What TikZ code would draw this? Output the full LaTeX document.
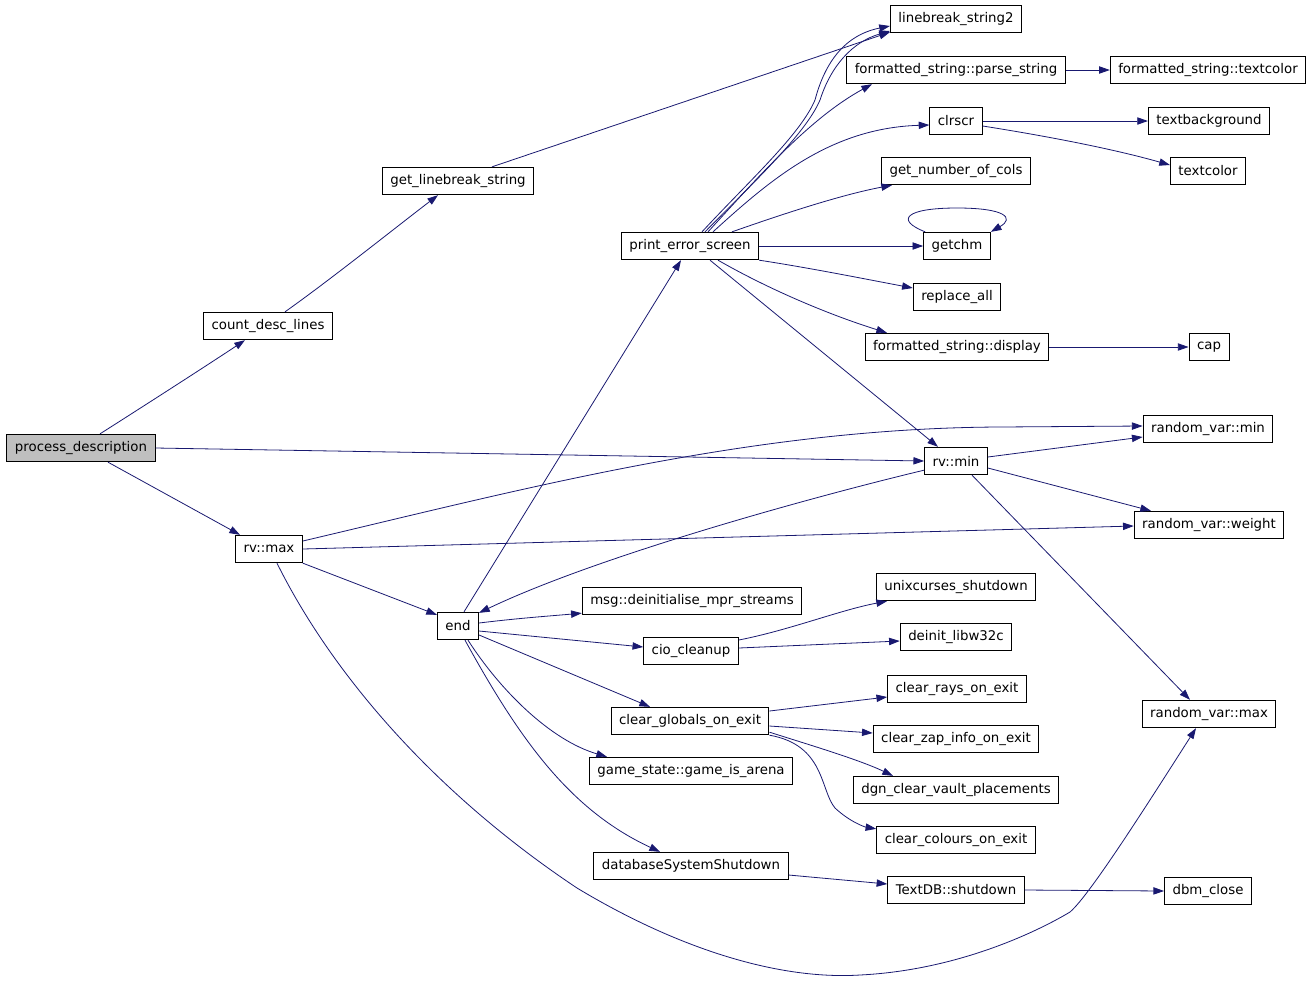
\documentclass[tikz,border=0pt]{standalone}
\usepackage{fontspec}
\setmainfont{DejaVu Sans}
\usetikzlibrary{calc,arrows.meta}
\definecolor{edgecol}{HTML}{191970}
\definecolor{curfill}{HTML}{BFBFBF}
\tikzset{
  fn/.style={draw=black, line width=0.75pt, fill=white, inner xsep=6pt, inner ysep=0pt,
    minimum height=20.5pt, font=\fontsize{10pt}{12pt}\selectfont, anchor=center},
  cur/.style={fn, fill=curfill},
  edge/.style={draw=edgecol, line width=0.6pt, -{Triangle[length=8pt,width=5.5pt]}}
}
\begin{document}
\begin{tikzpicture}[x=0.75pt,y=-0.75pt]
\useasboundingbox (0,0) rectangle (1309,1004);
% nodes
\node[cur] (pd) at (81,448) {process\_description};
\node[fn] (cdl) at (268,326) {count\_desc\_lines};
\node[fn] (gls) at (458,181) {get\_linebreak\_string};
\node[fn] (rvmax) at (269,549) {rv::max};
\node[fn] (endn) at (458,626) {end};
\node[fn] (pes) at (690,246) {print\_error\_screen};
\node[fn] (lbs2) at (956,19) {linebreak\_string2};
\node[fn] (fsps) at (956,70) {formatted\_string::parse\_string};
\node[fn] (fstc) at (1208,70) {formatted\_string::textcolor};
\node[fn] (clrscr) at (956,121) {clrscr};
\node[fn] (tbg) at (1209,121) {textbackground};
\node[fn] (tc) at (1208,171) {textcolor};
\node[fn] (gnc) at (956,171) {get\_number\_of\_cols};
\node[fn] (getchm) at (957,246) {getchm};
\node[fn] (repl) at (957,297) {replace\_all};
\node[fn] (fsd) at (957,347) {formatted\_string::display};
\node[fn] (cap) at (1209,347) {cap};
\node[fn] (rvarmin) at (1208,429) {random\_var::min};
\node[fn] (rvmin) at (956,461) {rv::min};
\node[fn] (rvarw) at (1209,525) {random\_var::weight};
\node[fn] (msg) at (692,601) {msg::deinitialise\_mpr\_streams};
\node[fn] (ucs) at (956,587) {unixcurses\_shutdown};
\node[fn] (cio) at (691,651) {cio\_cleanup};
\node[fn] (dlw) at (956,637) {deinit\_libw32c};
\node[fn] (crays) at (957,689) {clear\_rays\_on\_exit};
\node[fn] (cglob) at (690,721) {clear\_globals\_on\_exit};
\node[fn] (czap) at (956,739) {clear\_zap\_info\_on\_exit};
\node[fn] (rvarmax) at (1209,714) {random\_var::max};
\node[fn] (gsga) at (691,771) {game\_state::game\_is\_arena};
\node[fn] (dgn) at (956,790) {dgn\_clear\_vault\_placements};
\node[fn] (ccol) at (956,840) {clear\_colours\_on\_exit};
\node[fn] (dbss) at (691,866) {databaseSystemShutdown};
\node[fn] (tdb) at (956,890) {TextDB::shutdown};
\node[fn] (dbm) at (1208,891) {dbm\_close};
% edges from process_description
\draw[edge] ($(pd.north)+(19,0)$) .. controls (125,418) and (200,370) .. ($(cdl.south)+(-23,0)$);
\draw[edge] (pd.east) -- (rvmin.west);
\draw[edge] ($(pd.south)+(27,0)$) -- ($(rvmax.north)+(-29,0)$);
\draw[edge] ($(cdl.north)+(17,0)$) .. controls (330,280) and (395,228) .. ($(gls.south)+(-20,0)$);
\draw[edge] ($(gls.north)+(34,0)$) -- ($(lbs2.south west)+(0,-1)$);
% rv::max
\draw[edge] ($(rvmax.east)+(0,-8)$) .. controls (520,490) and (750,428) .. (1000,427) -- ($(rvarmin.west)+(0,-3)$);
\draw[edge] (rvmax.east) -- ($(rvarw.west)+(0,1)$);
\draw[edge] (rvmax.south east) -- ($(endn.north west)+(0,3)$);
\draw[edge] ($(rvmax.south)+(8,0)$) .. controls (330,670) and (430,790) .. (577,888)
  .. controls (680,950) and (780,980) .. (860,975)
  .. controls (960,970) and (1040,930) .. (1070,912)
  .. controls (1090,895) and (1150,800) .. ($(rvarmax.south)+(-13,0)$);
% end
\draw[edge] ($(endn.north)+(6,0)$) -- ($(pes.south)+(-9,0)$);
\draw[edge] ($(endn.east)+(0,-3)$) .. controls (520,618) and (550,616) .. ($(msg.south west)+(0,-2)$);
\draw[edge] ($(endn.east)+(0,5)$) -- ($(cio.west)+(0,-4)$);
\draw[edge] ($(endn.east)+(0,9)$) -- ($(cglob.north)+(-40,0)$);
\draw[edge] ($(endn.south)+(10,0)$) .. controls (500,690) and (550,740) .. ($(gsga.north)+(-84,0)$);
\draw[edge] ($(endn.south)+(7,0)$) .. controls (520,740) and (570,810) .. ($(dbss.north)+(-31,0)$);
% rv::min
\draw[edge] ($(rvmin.south west)+(0,-5)$) .. controls (820,495) and (600,555) .. ($(endn.north east)+(0,1)$);
\draw[edge] ($(rvmin.east)+(0,-4)$) -- ($(rvarmin.west)+(0,8)$);
\draw[edge] ($(rvmin.east)+(0,7)$) -- ($(rvarw.north)+(-58,0)$);
\draw[edge] ($(rvmin.south)+(16,0)$) -- ($(rvarmax.north)+(-19,0)$);
% print_error_screen
\draw[edge] ($(pes.north)+(12,0)$) .. controls (750,180) and (800,135) .. (815,100)
  .. controls (825,62) and (845,35) .. ($(lbs2.west)+(0,7)$);
\draw[edge] ($(pes.north)+(15,0)$) .. controls (756,180) and (806,133) .. (820,100)
  .. controls (831,66) and (852,42) .. ($(lbs2.west)+(0,12)$);
\draw[edge] ($(pes.north)+(18,0)$) .. controls (760,175) and (810,118) .. ($(fsps.south)+(-84,0)$);
\draw[edge] ($(pes.north)+(23,0)$) .. controls (770,180) and (830,128) .. ($(clrscr.west)+(0,4)$);
\draw[edge] ($(pes.north)+(42,0)$) .. controls (780,215) and (840,195) .. ($(gnc.south)+(-64,0)$);
\draw[edge] (pes.east) -- (getchm.west);
\draw[edge] (pes.south east) .. controls (810,268) and (860,278) .. ($(repl.west)+(0,-9)$);
\draw[edge] ($(pes.south)+(28,0)$) .. controls (770,290) and (830,315) .. ($(fsd.north)+(-70,0)$);
\draw[edge] ($(pes.south)+(20,0)$) -- ($(rvmin.north)+(-18,0)$);
% getchm self loop
\draw[edge] ($(getchm.north west)+(2,0)$) .. controls (895,220) and (905,208) .. (957,208)
  .. controls (1005,208) and (1015,218) .. (getchm.north east);
% others
\draw[edge] (fsps.east) -- (fstc.west);
\draw[edge] (clrscr.east) -- (tbg.west);
\draw[edge] ($(clrscr.east)+(0,5)$) .. controls (1040,135) and (1110,148) .. ($(tc.west)+(0,-6)$);
\draw[edge] (fsd.east) -- (cap.west);
\draw[edge] ($(cio.east)+(0,-11)$) .. controls (790,630) and (840,610) .. ($(ucs.south)+(-69,0)$);
\draw[edge] ($(cio.east)+(0,-3)$) -- ($(dlw.west)+(0,4)$);
\draw[edge] ($(cglob.east)+(0,-10)$) -- ($(crays.west)+(0,8)$);
\draw[edge] ($(cglob.east)+(0,5)$) -- ($(czap.west)+(0,-6)$);
\draw[edge] ($(cglob.south east)+(0,-3)$) .. controls (810,745) and (860,760) .. ($(dgn.north)+(-63,0)$);
\draw[edge] (cglob.south east) .. controls (825,745) and (820,790) .. (835,808)
  .. controls (850,822) and (865,827) .. ($(ccol.north west)+(0,3)$);
\draw[edge] ($(dbss.east)+(0,9)$) -- ($(tdb.west)+(0,-6)$);
\draw[edge] (tdb.east) -- (dbm.west);
\end{tikzpicture}
\end{document}
